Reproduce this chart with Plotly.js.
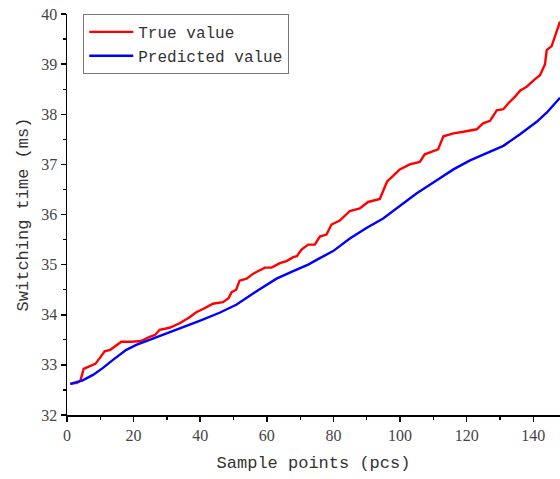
<!DOCTYPE html>
<html>
<head>
<meta charset="utf-8">
<script src="https://cdn.plot.ly/plotly-3.0.1.min.js"></script>
<style>html,body{margin:0;padding:0;background:#fff;}#chart{width:560px;height:479px;}</style>
</head>
<body>
<div id="chart"></div>
<script>
const trueX = [1,3,4,5,6,7.5,8.5,10,11.3,13,14.5,16.3,19,21.8,23,24.8,26.5,27.8,30.8,33.8,36.8,38.8,41,43.8,46.8,48.5,49.4,50.8,51.8,53.9,55.9,57.5,59.4,61.4,63.9,65.9,67.9,69,70.4,72.4,74.4,75.9,77.9,79.4,81.9,84.9,87.9,90.4,93.9,94.9,96.1,97.9,99.9,102.9,105.9,107.4,109,111.4,113,116,119,123,124.9,127,129,131,132.5,134.5,136,138,140.5,142,143.5,144,145.5,147,148];
const trueY = [32.62,32.64,32.68,32.92,32.95,33.0,33.02,33.15,33.27,33.3,33.38,33.46,33.46,33.47,33.5,33.56,33.6,33.7,33.74,33.83,33.95,34.05,34.12,34.22,34.25,34.33,34.45,34.5,34.68,34.72,34.82,34.88,34.94,34.94,35.03,35.07,35.15,35.17,35.3,35.4,35.4,35.56,35.6,35.8,35.88,36.07,36.12,36.25,36.31,36.47,36.66,36.77,36.9,37.0,37.05,37.2,37.24,37.3,37.56,37.62,37.65,37.7,37.82,37.87,38.08,38.1,38.22,38.35,38.47,38.55,38.7,38.78,39.0,39.28,39.36,39.65,39.85];
const predX = [1,3,4.7,7.8,10.8,13.8,17.8,20.8,24.8,29.8,33.8,36.8,39.8,45.8,50.8,56.9,62.9,67.9,72.4,75.9,79.9,84.9,89.9,94.9,99.9,104.9,110.9,116,121,126,131,136,141,144,146,148];
const predY = [32.62,32.65,32.69,32.8,32.94,33.1,33.3,33.4,33.5,33.62,33.73,33.8,33.88,34.04,34.2,34.47,34.72,34.87,35.0,35.13,35.27,35.52,35.73,35.92,36.17,36.42,36.68,36.9,37.08,37.22,37.37,37.6,37.85,38.03,38.18,38.33];
const xTicks = [0,20,40,60,80,100,120,140];
const yTicks = [32,33,34,35,36,37,38,39,40];

const monoFont = "'Liberation Mono', 'DejaVu Sans Mono', monospace";
const serifFont = "'Liberation Serif', 'DejaVu Serif', serif";

const traces = [
  {x: trueX, y: trueY, type: 'scatter', mode: 'lines', name: 'True value',
   line: {color: 'rgb(255,0,0)', width: 2.4}},
  {x: predX, y: predY, type: 'scatter', mode: 'lines', name: 'Predicted value',
   line: {color: 'rgb(0,0,255)', width: 2.4}}
];

const layout = {
  width: 560, height: 479,
  margin: {l: 67, r: 0, t: 14, b: 64, pad: 0},
  paper_bgcolor: '#fff', plot_bgcolor: '#fff',
  showlegend: true,
  legend: {x: 0.033, y: 1, xanchor: 'left', yanchor: 'top',
    bordercolor: '#777', borderwidth: 1, bgcolor: 'rgba(255,255,255,0)',
    itemwidth: 44, tracegroupgap: 0,
    font: {family: monoFont, size: 16, color: '#333'}},
  xaxis: {
    range: [0, 148], tickvals: xTicks, ticktext: xTicks.map(String),
    showgrid: false, zeroline: false, showline: true, linecolor: '#000', linewidth: 1.5,
    ticks: 'outside', ticklen: 5, tickwidth: 1.5, tickcolor: '#000',
    minor: {dtick: 10, tick0: 0, ticks: 'outside', ticklen: 3, tickwidth: 1.2, tickcolor: '#000', showgrid: false},
    tickfont: {family: serifFont, size: 16, color: '#444'},
    title: {text: 'Sample points (pcs)', font: {family: monoFont, size: 17, color: '#333'}, standoff: 13}
  },
  yaxis: {
    range: [32, 40], tickvals: yTicks, ticktext: yTicks.map(String),
    showgrid: false, zeroline: false, showline: true, linecolor: '#000', linewidth: 1.5,
    ticks: 'outside', ticklen: 5, tickwidth: 1.5, tickcolor: '#000',
    minor: {dtick: 0.5, tick0: 32, ticks: 'outside', ticklen: 3, tickwidth: 1.2, tickcolor: '#000', showgrid: false},
    tickfont: {family: serifFont, size: 16, color: '#444'},
    title: {text: 'Switching time (ms)', font: {family: monoFont, size: 17, color: '#333'}, standoff: 8}
  }
};

Plotly.newPlot('chart', traces, layout, {displayModeBar: false, staticPlot: true});
</script>
</body>
</html>
